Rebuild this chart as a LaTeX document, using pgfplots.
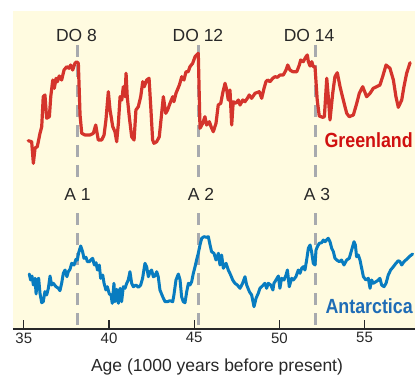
\documentclass[border=0pt]{standalone}
\usepackage{fontspec}
\setmainfont{Liberation Sans}
\newfontfamily\condbold[FakeStretch=0.87]{Liberation Sans Bold}
\usepackage{pgfplots}
\pgfplotsset{compat=1.18}
\definecolor{bg}{RGB}{255,251,224}
\definecolor{redline}{RGB}{212,52,44}
\definecolor{blueline}{RGB}{8,124,192}
\definecolor{redtext}{RGB}{208,16,16}
\definecolor{bluetext}{RGB}{30,108,182}
\definecolor{dashgray}{RGB}{168,170,174}
\definecolor{txt}{RGB}{40,40,40}
\begin{document}
\begin{tikzpicture}
\useasboundingbox (-13pt,-46pt) rectangle (402pt,329pt);
\begin{axis}[
  scale only axis, width=402pt, height=318pt,
  xmin=34.365, xmax=57.959, ymin=0, ymax=318,
  axis x line*=bottom, axis y line=none,
  axis background/.style={fill=bg},
  xtick={35,40,45,50,55}, ytick=\empty,
  tick align=inside, major tick length=9pt,
  x axis line style={line width=1.8pt, color=txt},
  tick style={line width=1.3pt, color=txt},
  /pgf/number format/assume math mode=true,
  xticklabel style={font=\fontsize{15}{18}\selectfont, text=txt},
  xlabel={Age (1000 years before present)},
  xlabel style={at={(axis description cs:0.5,0)}, anchor=base, yshift=-42.5pt, xshift=3pt, font=\fontsize{17.5}{21}\selectfont, text=txt},
]
% dashed event lines
\addplot[dashgray, line width=3pt, dash pattern=on 12pt off 8pt, forget plot] coordinates {(38.14,284) (38.14,149)};
\addplot[dashgray, line width=3pt, dash pattern=on 12pt off 8pt, forget plot] coordinates {(38.14,4) (38.14,116)};
\addplot[dashgray, line width=3pt, dash pattern=on 12pt off 8pt, forget plot] coordinates {(45.26,284) (45.26,149)};
\addplot[dashgray, line width=3pt, dash pattern=on 12pt off 8pt, forget plot] coordinates {(45.26,4) (45.26,116)};
\addplot[dashgray, line width=3pt, dash pattern=on 12pt off 8pt, forget plot] coordinates {(52.09,284) (52.09,149)};
\addplot[dashgray, line width=3pt, dash pattern=on 12pt off 8pt, forget plot] coordinates {(52.09,4) (52.09,116)};
% Greenland
\addplot[redline, line width=3.2pt, line join=round, line cap=round] table {
35.26 188.3
35.46 187.3
35.56 165.7
35.66 181
35.79 182.3
35.95 195.7
36.05 202.3
36.14 232.3
36.24 234
36.34 210.7
36.50 212.3
36.58 232.3
36.70 249
36.79 240.7
36.89 250.7
36.97 247.3
37.08 253
37.22 249
37.36 259
37.52 262.3
37.65 260.7
37.75 264
37.87 259
38.00 265.7
38.10 267.3
38.20 265.7
38.30 214
38.40 195.7
38.59 194
38.88 194
39.08 195.7
39.22 204
39.37 189
39.57 189
39.71 194
39.82 209
39.96 237.3
40.06 219
40.22 202.3
40.35 197.3
40.45 187.3
40.55 205.7
40.65 232.3
40.75 229
40.84 242.3
40.94 232.3
41.00 255.7
41.07 232.3
41.19 212.3
41.33 192.3
41.47 189
41.58 219
41.72 222.3
41.86 232.3
41.98 247.3
42.07 242.3
42.21 249
42.35 250.7
42.45 222.3
42.56 189
42.64 185.7
42.80 187.3
42.95 192.3
43.07 212.3
43.19 232.3
43.33 215.7
43.44 219
43.58 225.7
43.74 232.3
43.81 227.3
43.93 235.7
44.01 239
44.13 244
44.27 252.3
44.40 249
44.52 257.3
44.65 257.3
44.75 262.3
44.91 265.7
45.05 272.3
45.24 275.7
45.34 200.7
45.50 205.7
45.63 212.3
45.73 204
45.89 207.3
45.99 202.3
46.12 197.3
46.28 205.7
46.41 224
46.56 225.7
46.67 235.7
46.81 245.7
46.91 239
47.00 229
47.10 239
47.20 204
47.29 227.3
47.45 225.7
47.59 229
47.69 224
47.85 229
47.98 227.3
48.12 230.7
48.23 234
48.37 230.7
48.57 235.7
48.82 237.3
48.96 230.7
49.10 240.7
49.21 247.3
49.31 249
49.45 247.3
49.61 250.7
49.74 252.3
49.88 251.7
50.04 254
50.23 254
50.39 259
50.49 264
50.62 259
50.78 257.3
51.02 257.3
51.17 264
51.25 269
51.40 267.3
51.56 272.3
51.64 274
51.70 267.3
51.80 263
51.90 267.3
51.99 262.3
52.09 262.3
52.22 229
52.34 213
52.54 211.7
52.64 212.3
52.78 250.7
52.87 232.3
52.97 209
53.13 235.7
53.26 252.3
53.40 256.3
53.56 242.3
53.75 229
53.95 215.7
54.10 212.3
54.34 214
54.54 225.7
54.69 235.7
54.89 242.3
55.12 232.3
55.32 235.7
55.51 240.7
55.71 242.3
55.90 244
56.06 252.3
56.26 264
56.49 260.7
56.69 249
56.84 232.3
56.98 221.7
57.18 229
57.31 242.3
57.47 255.7
57.67 266.3
};
% Antarctica
\addplot[blueline, line width=3pt, line join=round, line cap=round] table {
35.32 55
35.40 49
35.48 53
35.56 44
35.66 50.7
35.72 35
35.79 49
35.87 50.7
35.95 35.7
36.05 26.3
36.14 27.3
36.24 37.3
36.34 34
36.44 40.7
36.54 53
36.63 44
36.73 45.7
36.89 42.3
37.03 40.7
37.12 38.3
37.22 45.7
37.32 55.7
37.42 59
37.53 52.3
37.61 57.3
37.71 59.7
37.81 65.7
37.95 64
38.06 69.7
38.14 69
38.22 76.3
38.34 83
38.45 77.3
38.53 70.7
38.65 71.7
38.73 67.3
38.85 67.3
38.92 69
39.04 70.7
39.14 64
39.24 66.3
39.32 59
39.43 64
39.51 50.7
39.63 54
39.71 45.7
39.82 39
39.90 42.3
40.02 35
40.12 34
40.19 25.7
40.29 45.7
40.35 27.3
40.45 39.7
40.55 25.7
40.65 40.7
40.74 27.3
40.84 42.3
40.94 40.7
41.04 45.7
41.13 49
41.23 57.3
41.33 45.7
41.43 42.3
41.58 44
41.72 41.7
41.86 44
41.97 50.7
42.11 65.7
42.21 62.3
42.31 52.3
42.41 57.3
42.50 59
42.60 52.3
42.70 53
42.80 57.3
42.89 52.3
42.99 39
43.15 32.3
43.29 27.3
43.42 27.3
43.58 28.3
43.74 27.3
43.81 34
43.93 49
44.07 55
44.17 49
44.26 32.3
44.36 27.3
44.46 26.3
44.56 37.3
44.66 45.7
44.75 44
44.85 47.3
44.95 55.7
45.05 62.3
45.14 69
45.24 75.7
45.34 84
45.44 90.7
45.57 92.3
45.73 91.7
45.83 92.3
45.93 84
46.02 77.3
46.16 75.7
46.28 69
46.42 75.7
46.51 64
46.61 74
46.71 60.7
46.87 65.7
47.00 59
47.14 54
47.26 49
47.39 45.7
47.53 44
47.69 40.7
47.84 45.7
47.98 52.3
48.08 44
48.24 37.3
48.37 34
48.51 22.3
48.63 30.7
48.76 35.7
48.86 40.7
48.96 42.3
49.06 44
49.15 45.7
49.25 40.7
49.35 45.7
49.49 44
49.62 39
49.68 45.7
49.80 49
49.94 53
50.03 40.7
50.13 50.7
50.27 49
50.39 54
50.47 59
50.58 42.3
50.72 50.7
50.82 49
50.97 52.3
51.11 59
51.21 55.7
51.31 60.7
51.40 62.3
51.50 59
51.60 69
51.70 80.7
51.80 84
51.89 77.3
51.99 65.7
52.09 64
52.15 79
52.23 82.3
52.34 85.7
52.48 86.3
52.58 89
52.68 87.3
52.77 89
52.87 90.7
52.97 87.3
53.07 80.7
53.17 77.3
53.26 70.7
53.36 69
53.52 67.3
53.65 69
53.79 64
53.95 69
54.10 70.7
54.24 79
54.38 87.3
54.46 84
54.53 72.3
54.63 74
54.73 69
54.83 60.7
54.93 52.3
55.08 49
55.22 50.7
55.32 40.7
55.41 49
55.51 45.7
55.67 47.3
55.81 49
55.90 50.7
56.00 44
56.14 42.3
56.26 45.7
56.39 54
56.53 59
56.69 62.3
56.84 65.7
56.98 68.3
57.08 67.3
57.18 64
57.31 67.3
57.47 69.7
57.67 73
57.82 75
};
% labels
\node[anchor=base, font=\fontsize{17.5}{21}\selectfont, text=txt] at (axis cs:38.09,287) {DO 8};
\node[anchor=base, font=\fontsize{17.5}{21}\selectfont, text=txt] at (axis cs:45.22,287) {DO 12};
\node[anchor=base, font=\fontsize{17.5}{21}\selectfont, text=txt] at (axis cs:51.74,287) {DO 14};
\node[anchor=base, font=\fontsize{17.5}{21}\selectfont, text=txt] at (axis cs:38.15,128) {A 1};
\node[anchor=base, font=\fontsize{17.5}{21}\selectfont, text=txt] at (axis cs:45.40,128) {A 2};
\node[anchor=base, font=\fontsize{17.5}{21}\selectfont, text=txt] at (axis cs:52.21,128) {A 3};
\node[anchor=base east, inner sep=0pt, font=\condbold\fontsize{20.5}{24}\selectfont, text=redtext] at (axis cs:57.84,181) {Greenland};
\node[anchor=base east, inner sep=0pt, font=\condbold\fontsize{20.5}{24}\selectfont, text=bluetext] at (axis cs:57.84,16) {Antarctica};
\end{axis}
\end{tikzpicture}
\end{document}
